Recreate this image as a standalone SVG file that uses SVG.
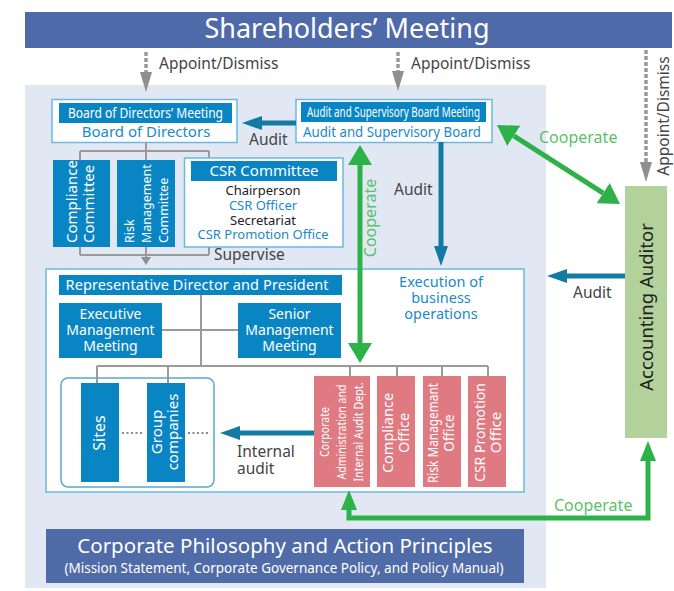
<svg xmlns="http://www.w3.org/2000/svg" width="674" height="591" viewBox="0 0 674 591">
<style>
text{font-family:"Noto Sans","Open Sans",sans-serif;}
.w{fill:#ffffff}
.b{fill:#1a8ac7}
.k{fill:#222222}
.l{fill:#454545}
.gt{fill:#5cbf6b}
.hdr{fill:#0a85c4}
.box{fill:#ffffff;stroke:#6cb8e2;stroke-width:1.5}
.pink{fill:#e07a82}
.org{stroke:#9a9a9a;stroke-width:2;fill:none}
.teal{stroke:#137ba3;stroke-width:5;fill:none}
.green{stroke:#2db24a;stroke-width:5;fill:none}
.dash{stroke:#9a9a9a;stroke-width:3.5;stroke-dasharray:4 2;fill:none}
.dots{stroke:#8a8a8a;stroke-width:2;stroke-dasharray:2 2.5;fill:none}
.m{text-anchor:middle}
</style>
<defs>
<marker id="mTeal" markerUnits="userSpaceOnUse" markerWidth="20" markerHeight="14" refX="0" refY="7" orient="auto-start-reverse"><path d="M0,0 L20,7 L0,14 z" fill="#137ba3"/></marker>
<marker id="mGray" markerUnits="userSpaceOnUse" markerWidth="20" markerHeight="12" refX="0" refY="6" orient="auto-start-reverse"><path d="M0,0 L20,6 L0,12 z" fill="#8f8f8f"/></marker>
<marker id="mGraySmall" markerUnits="userSpaceOnUse" markerWidth="8" markerHeight="10" refX="0" refY="5" orient="auto-start-reverse"><path d="M0,0 L8,5 L0,10 z" fill="#8f8f8f"/></marker>
<marker id="mGreenA" markerUnits="userSpaceOnUse" markerWidth="20" markerHeight="24" refX="0" refY="12" orient="auto-start-reverse"><path d="M0,0 L20,12 L0,24 z" fill="#2db24a"/></marker>
<marker id="mGreenB" markerUnits="userSpaceOnUse" markerWidth="20" markerHeight="16" refX="0" refY="8" orient="auto-start-reverse"><path d="M0,0 L20,8 L0,16 z" fill="#2db24a"/></marker>
</defs>

<rect id="background" x="25" y="85" width="521" height="503" fill="#e1e8f4"/>

<g id="shareholders-meeting">
<rect x="25" y="12" width="647" height="36" fill="#4f6aa8"/>
<text x="347" y="38" class="w m" font-size="27">Shareholders’ Meeting</text>
</g>

<g id="board-of-directors">
<rect class="box" x="52" y="99.5" width="185" height="43"/>
<rect class="hdr" x="59" y="103" width="173" height="20"/>
<text x="145.5" y="118" class="w m" font-size="14" textLength="155" lengthAdjust="spacingAndGlyphs">Board of Directors’ Meeting</text>
<text x="146" y="137" class="b m" font-size="15">Board of Directors</text>
</g>

<g id="audit-supervisory-board">
<rect class="box" x="296" y="99.5" width="196" height="43"/>
<rect class="hdr" x="301" y="102" width="185" height="20"/>
<text x="393.5" y="117" class="w m" font-size="14" textLength="173" lengthAdjust="spacingAndGlyphs">Audit and Supervisory Board Meeting</text>
<text x="392" y="137" class="b m" font-size="14.5" textLength="178" lengthAdjust="spacingAndGlyphs">Audit and Supervisory Board</text>
</g>

<g id="compliance-committee">
<rect class="hdr" x="53" y="160" width="57" height="87"/>
<text transform="rotate(-90)" class="w" font-size="15"><tspan x="-243" y="77">Compliance</tspan><tspan x="-243" y="94">Committee</tspan></text>
</g>

<g id="risk-management-committee">
<rect class="hdr" x="117" y="160" width="58" height="87"/>
<text transform="rotate(-90)" class="w" font-size="12.5"><tspan x="-243" y="134">Risk</tspan><tspan x="-243" y="151">Management</tspan><tspan x="-243" y="168">Committee</tspan></text>
</g>

<g id="csr-committee">
<rect class="box" x="184.5" y="158" width="158.5" height="89"/>
<rect class="hdr" x="191" y="161" width="146" height="20"/>
<text x="264" y="176" class="w m" font-size="15">CSR Committee</text>
<text class="m" font-size="13"><tspan x="263" y="195" class="k">Chairperson</tspan><tspan x="263" y="210" class="b">CSR Officer</tspan><tspan x="263" y="225" class="k">Secretariat</tspan><tspan x="263" y="239" class="b">CSR Promotion Office</tspan></text>
</g>

<g id="execution-of-business-operations">
<rect class="box" x="46" y="269" width="478" height="223"/>
<text class="b m" font-size="14.5"><tspan x="441" y="287">Execution of</tspan><tspan x="441" y="303">business</tspan><tspan x="441" y="319">operations</tspan></text>
</g>

<g id="representative-director">
<rect class="hdr" x="59" y="275" width="283" height="20"/>
<text x="197" y="290" class="w m" font-size="14.5" textLength="263">Representative Director and President</text>
</g>

<g id="executive-management-meeting">
<rect class="hdr" x="59" y="303" width="103" height="55"/>
<text class="w m" font-size="14"><tspan x="110.5" y="319">Executive</tspan><tspan x="110.5" y="335">Management</tspan><tspan x="110.5" y="351">Meeting</tspan></text>
</g>

<g id="senior-management-meeting">
<rect class="hdr" x="238" y="303" width="103" height="55"/>
<text class="w m" font-size="14"><tspan x="289.5" y="319">Senior</tspan><tspan x="289.5" y="335">Management</tspan><tspan x="289.5" y="351">Meeting</tspan></text>
</g>

<g id="sites-group">
<rect x="61" y="378" width="153" height="109" rx="7" fill="#ffffff" stroke="#5aa6d0" stroke-width="1.5"/>
</g>

<g id="sites">
<rect class="hdr" x="81" y="383" width="38" height="99"/>
<text transform="rotate(-90)" x="-433" y="105" class="w m" font-size="16">Sites</text>
</g>

<g id="group-companies">
<rect class="hdr" x="147" y="383" width="38" height="99"/>
<text transform="rotate(-90)" class="w m" font-size="15"><tspan x="-432" y="162">Group</tspan><tspan x="-432" y="178">companies</tspan></text>
</g>

<g id="corporate-administration">
<rect class="pink" x="314" y="376" width="56" height="111"/>
<text transform="rotate(-90)" class="w m" font-size="12.5"><tspan x="-432" y="329" textLength="50" lengthAdjust="spacingAndGlyphs">Corporate</tspan><tspan x="-432" y="346" textLength="95" lengthAdjust="spacingAndGlyphs">Administration and</tspan><tspan x="-432" y="363" textLength="99" lengthAdjust="spacingAndGlyphs">Internal Audit Dept.</tspan></text>
</g>

<g id="compliance-office">
<rect class="pink" x="377" y="376" width="38" height="111"/>
<text transform="rotate(-90)" class="w m" font-size="14.5"><tspan x="-433" y="393">Compliance</tspan><tspan x="-433" y="409">Office</tspan></text>
</g>

<g id="risk-management-office">
<rect class="pink" x="423" y="376" width="38" height="111"/>
<text transform="rotate(-90)" class="w m" font-size="13.5"><tspan x="-433" y="438" textLength="100" lengthAdjust="spacingAndGlyphs">Risk Managemant</tspan><tspan x="-433" y="454">Office</tspan></text>
</g>

<g id="csr-promotion-office">
<rect class="pink" x="468" y="376" width="38" height="111"/>
<text transform="rotate(-90)" class="w m" font-size="15"><tspan x="-432.5" y="485" textLength="99" lengthAdjust="spacingAndGlyphs">CSR Promotion</tspan><tspan x="-432.5" y="501">Office</tspan></text>
</g>

<g id="accounting-auditor">
<rect x="625" y="186" width="42" height="252" fill="#b3d19b"/>
<text transform="rotate(-90)" x="-307" y="653" class="k m" font-size="18.5">Accounting Auditor</text>
</g>

<g id="corporate-philosophy">
<rect x="46" y="529" width="478" height="54" fill="#4f6ba8"/>
<text x="285" y="553" class="w m" font-size="20.5">Corporate Philosophy and Action Principles</text>
<text x="284" y="573" class="w m" font-size="13.5">(Mission Statement, Corporate Governance Policy, and Policy Manual)</text>
</g>

<g id="connectors">
<line class="dash" x1="146" y1="52" x2="146" y2="72" marker-end="url(#mGray)"/>
<line class="dash" x1="398" y1="52" x2="398" y2="71" marker-end="url(#mGray)"/>
<line class="dash" x1="646" y1="50" x2="646" y2="162" marker-end="url(#mGray)"/>
<text x="159" y="69" class="l" font-size="15.5">Appoint/Dismiss</text>
<text x="411" y="69" class="l" font-size="15.5">Appoint/Dismiss</text>
<text transform="rotate(-90)" x="-116" y="669" class="l m" font-size="15.5">Appoint/Dismiss</text>

<line class="teal" x1="296" y1="123" x2="262" y2="123" marker-end="url(#mTeal)"/>
<text x="249" y="145" class="l" font-size="15.5">Audit</text>
<line class="teal" x1="441" y1="142" x2="441" y2="246" marker-end="url(#mTeal)"/>
<text x="394" y="195" class="l" font-size="15.5">Audit</text>
<line class="teal" x1="625" y1="276" x2="567" y2="276" marker-end="url(#mTeal)"/>
<text x="573" y="298" class="l" font-size="15.5">Audit</text>
<line class="teal" x1="314" y1="433" x2="240" y2="433" marker-end="url(#mTeal)"/>
<text class="l" font-size="15.5"><tspan x="237" y="457">Internal</tspan><tspan x="237" y="474">audit</tspan></text>

<line class="green" x1="360" y1="165" x2="360" y2="343" marker-start="url(#mGreenA)" marker-end="url(#mGreenA)"/>
<text transform="rotate(-90)" x="-218" y="376" class="gt m" font-size="16">Cooperate</text>
<line class="green" x1="513.8" y1="135.8" x2="603.2" y2="193.2" marker-start="url(#mGreenA)" marker-end="url(#mGreenA)"/>
<text x="539" y="143" class="gt" font-size="16">Cooperate</text>
<polyline class="green" points="349,510 349,518 648,518 648,461" marker-start="url(#mGreenB)" marker-end="url(#mGreenB)"/>
<text x="554" y="511" class="gt" font-size="16">Cooperate</text>

<line class="org" x1="146" y1="142" x2="146" y2="160"/>
<line class="org" x1="80" y1="151" x2="209" y2="151"/>
<line class="org" x1="80" y1="151" x2="80" y2="160"/>
<line class="org" x1="209" y1="151" x2="209" y2="158"/>
<line class="org" x1="80" y1="255" x2="209" y2="255"/>
<line class="org" x1="80" y1="247" x2="80" y2="255"/>
<line class="org" x1="209" y1="247" x2="209" y2="255"/>
<line class="org" x1="146" y1="247" x2="146" y2="257" marker-end="url(#mGraySmall)"/>
<text x="214" y="260" class="l" font-size="15.5">Supervise</text>

<line class="org" x1="201" y1="295" x2="201" y2="366"/>
<line class="org" x1="162" y1="330" x2="238" y2="330"/>
<line class="org" x1="97" y1="366" x2="488" y2="366"/>
<line class="org" x1="97" y1="366" x2="97" y2="383"/>
<line class="org" x1="168" y1="366" x2="168" y2="383"/>
<line class="org" x1="350" y1="366" x2="350" y2="376"/>
<line class="org" x1="397" y1="366" x2="397" y2="376"/>
<line class="org" x1="442" y1="366" x2="442" y2="376"/>
<line class="org" x1="488" y1="366" x2="488" y2="376"/>
<line class="dots" x1="122" y1="433" x2="144" y2="433"/>
<line class="dots" x1="188" y1="433" x2="210" y2="433"/>
</g>
</svg>
